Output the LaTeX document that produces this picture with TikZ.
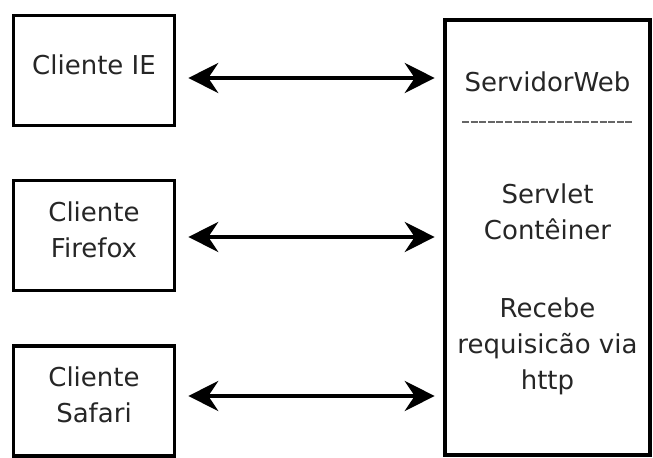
\documentclass[tikz,border=0pt]{standalone}
\usepackage{fontspec}
\setmainfont{DejaVu Sans}
\usetikzlibrary{positioning, arrows.meta}
\tikzset{
  client/.style={
      rectangle,
      draw,
      line width=1.8pt,
      minimum width=80.5pt,
      minimum height=55pt,
      align=center,
      text depth=6pt
    },
  server/.style={
      rectangle,
      draw,
      line width=1.8pt,
      minimum width=102.5pt,
      minimum height=217.5pt
    },
  txt/.style={
      inner sep=0pt,
      align=center
    },
  sep/.style={
      black!60,
      line width=0.7pt,
      dash pattern=on 3.5pt off 0.8pt
    },
  arr/.style={
      <->,
      >={Stealth[length=15pt, width=15pt, inset=5pt]},
      line width=1.6pt,
      shorten <=6pt,
      shorten >=4.25pt
    }
}

\begin{document}
\begin{tikzpicture}[x=0.5pt, y=-0.5pt, font=\fontsize{13pt}{18pt}\selectfont, text=black!85]
  \useasboundingbox (0,0) rectangle (653,458);
  % clientes
  \node[client] (ie) at (94,70.5) {Cliente IE};
  \node[client] (ff) at (94,235.5) {Cliente\\Firefox};
  \node[client] (sf) at (94,401) {Cliente\\Safari};
  % servidor
  \node[server] (srv) at (547.5,237.5) {};
  \node[txt, anchor=base] (title) at (547.5,92) {ServidorWeb};
  \draw[sep] (462,122) -- (632,122);
  \node[txt, anchor=north] (servlet) at (547.5,183) {Servlet\\Contêiner};
  \node[txt, anchor=north] (recebe) at (547.5,297) {Recebe\\requisicão via\\http};
  % conexoes
  \draw[arr] ([yshift=-3.75pt]ie.east) -- ([yshift=-3.75pt]ie.east -| srv.west);
  \draw[arr] ([yshift=-0.75pt]ff.east) -- ([yshift=-0.75pt]ff.east -| srv.west);
  \draw[arr] ([yshift=2.5pt]sf.east) -- ([yshift=2.5pt]sf.east -| srv.west);
\end{tikzpicture}
\end{document}
